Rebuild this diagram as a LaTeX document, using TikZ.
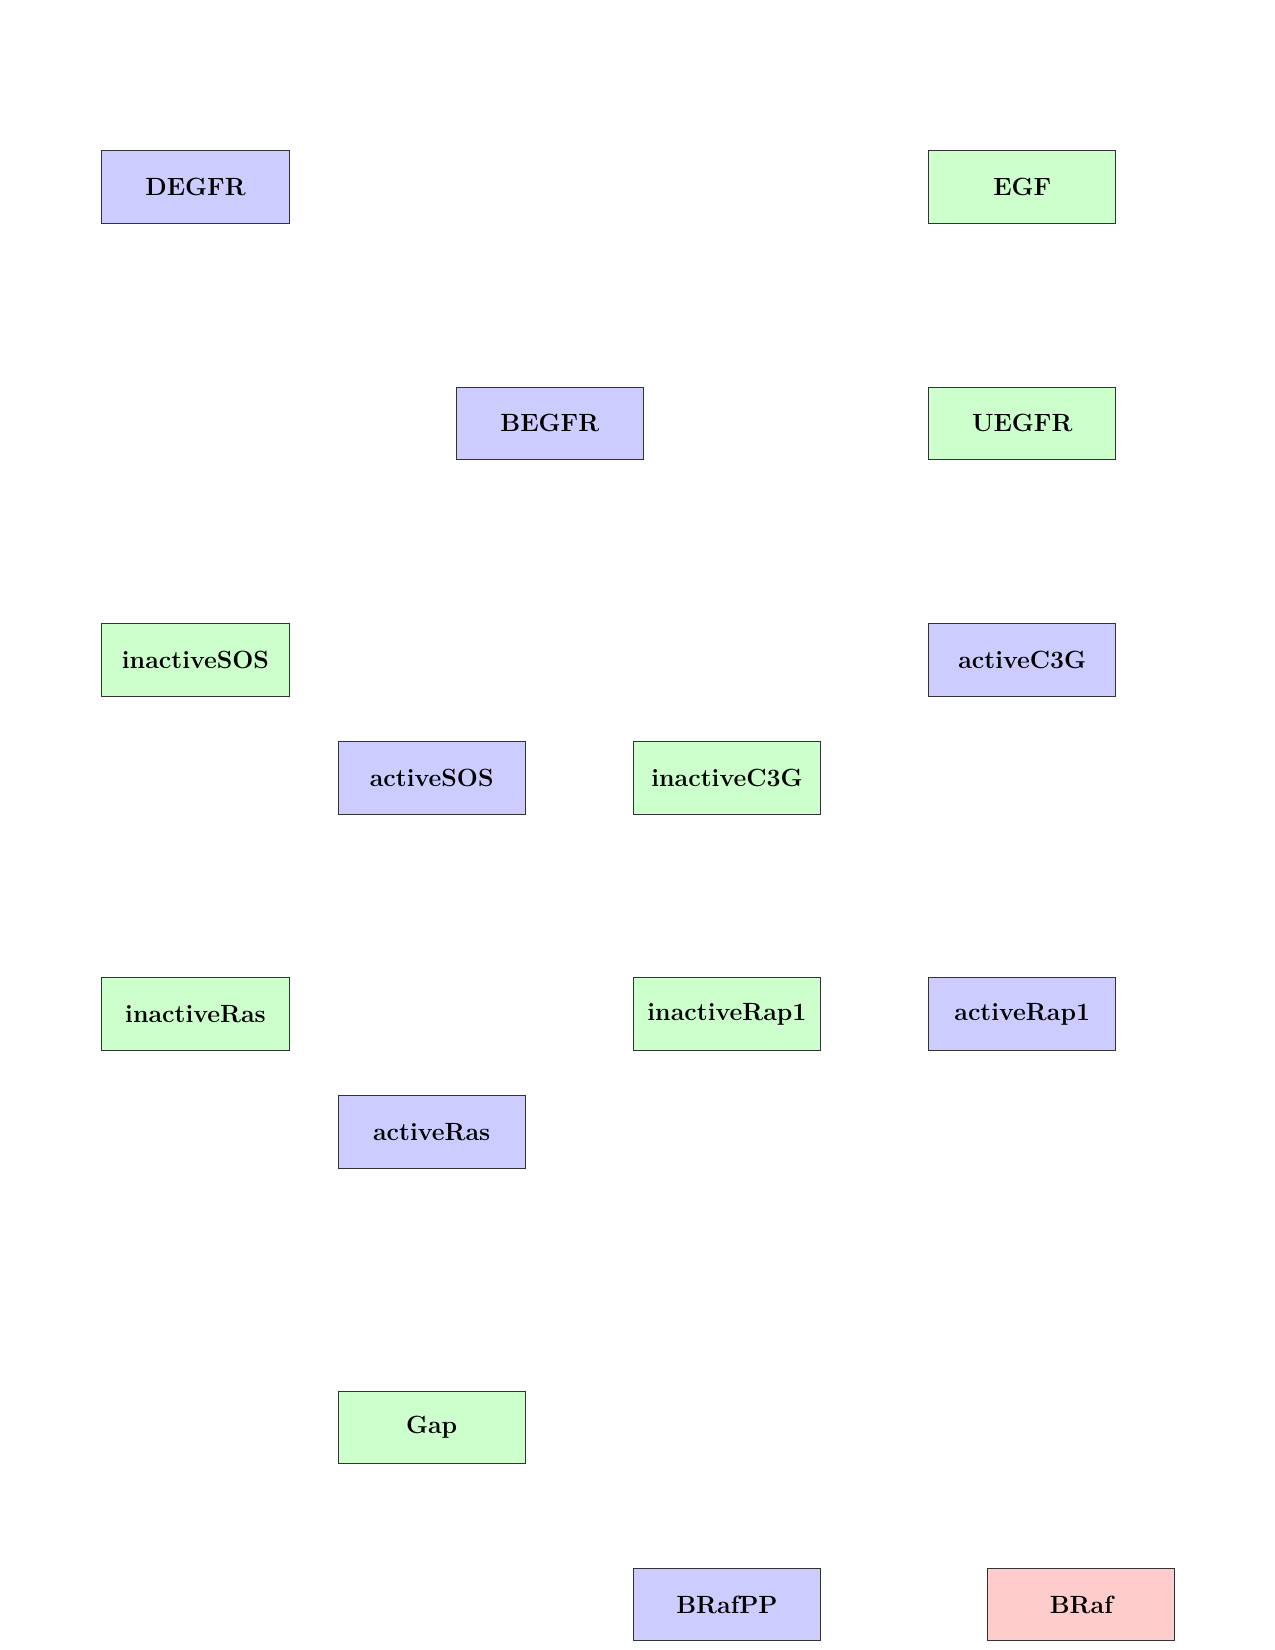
\documentclass[tikz,border=0pt]{standalone}
\tikzset{
  species/.style={draw=black!80, minimum width=3.17cm, minimum height=1.23cm, font=\large\bfseries},
  bluebox/.style={species, fill=blue!20},
  greenbox/.style={species, fill=green!20},
  redbox/.style={species, fill=red!20}
}
\begin{document}
\begin{tikzpicture}
  \useasboundingbox (-3.31, 3.17) rectangle (18.28, -24.77);
  \node [bluebox] (DEGFR) at (0, 0) {DEGFR};
  \node [greenbox] (EGF) at (14, 0) {EGF};
  \node [bluebox] (BEGFR) at (6, -4) {BEGFR};
  \node [greenbox] (UEGFR) at (14, -4) {UEGFR};
  \node [greenbox] (inactiveSOS) at (0, -8) {inactiveSOS};
  \node [bluebox] (activeC3G) at (14, -8) {activeC3G};
  \node [bluebox] (activeSOS) at (4, -10) {activeSOS};
  \node [greenbox] (inactiveC3G) at (9, -10) {inactiveC3G};
  \node [greenbox] (inactiveRas) at (0, -14) {inactiveRas};
  \node [greenbox] (inactiveRap1) at (9, -14) {inactiveRap1};
  \node [bluebox] (activeRap1) at (14, -14) {activeRap1};
  \node [bluebox] (activeRas) at (4, -16) {activeRas};
  \node [greenbox] (Gap) at (4, -21) {Gap};
  \node [bluebox] (BRafPP) at (9, -24) {BRafPP};
  \node [redbox] (BRaf) at (15, -24) {BRaf};
\end{tikzpicture}
\end{document}
